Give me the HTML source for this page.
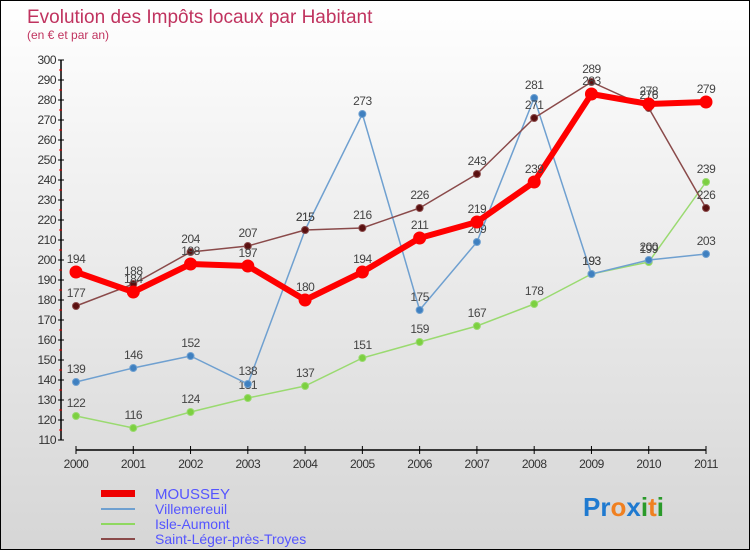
<!DOCTYPE html>
<html><head><meta charset="utf-8"><style>
body{margin:0;width:750px;height:550px;overflow:hidden;font-family:"Liberation Sans",sans-serif}
#c{position:absolute;left:0;top:0;width:748px;height:548px;border:1px solid #000;background:linear-gradient(#fff 0%,#f2f2f2 30%,#d6d6d6 100%)}
</style></head><body>
<div id="c">
<svg width="748" height="548" xmlns="http://www.w3.org/2000/svg" id="svg">
<text x="26" y="22" font-size="19" fill="#c0335f">Evolution des Impôts locaux par Habitant</text>
<text x="26" y="38" font-size="12" fill="#c0335f">(en € et par an)</text>
<g id="axes"></g><g id="series"></g>
<g>
<rect x="100" y="489" width="34" height="7" fill="#e00"/>
<text x="154" y="498" font-size="15" fill="#55f">MOUSSEY</text>
<rect x="100" y="507" width="34" height="2" fill="#6fa0d0"/>
<text x="154" y="513" font-size="14" fill="#55f">Villemereuil</text>
<rect x="100" y="522" width="34" height="2" fill="#8fd860"/>
<text x="154" y="528" font-size="14" fill="#55f">Isle-Aumont</text>
<rect x="100" y="537" width="34" height="2" fill="#8a4a4a"/>
<text x="154" y="543" font-size="14" fill="#55f">Saint-Léger-près-Troyes</text>
</g>
<text x="582" y="515" font-size="26" font-weight="bold"><tspan fill="#1f7ad0">Pr</tspan><tspan fill="#f08020">o</tspan><tspan fill="#1f7ad0">x</tspan><tspan fill="#2a9a2a">i</tspan><tspan fill="#f08020">t</tspan><tspan fill="#2a9a2a">i</tspan></text>
</svg></div>
<script>
const years=[2000,2001,2002,2003,2004,2005,2006,2007,2008,2009,2010,2011];
const yTicks=[110,120,130,140,150,160,170,180,190,200,210,220,230,240,250,260,270,280,290,300];
const moussey=[194,184,198,197,180,194,211,219,239,283,278,279];
const villemereuil=[139,146,152,138,215,273,175,209,281,193,200,203];
const isleAumont=[122,116,124,131,137,151,159,167,178,193,199,239];
const saintLeger=[177,188,204,207,215,216,226,243,271,289,276,226];
const NS="http://www.w3.org/2000/svg";
const X=i=>75+i*(630/11);
const Y=v=>59+(300-v)*2;
function mk(t,a,p){const e=document.createElementNS(NS,t);for(const k in a)e.setAttribute(k,a[k]);p.appendChild(e);return e;}
const ax=document.getElementById('axes');
const yl=mk('line',{x1:60,y1:Y(300),x2:60,y2:Y(110),stroke:'#000','stroke-width':1.5},ax);


yTicks.forEach(v=>{
 mk('line',{x1:57,y1:Y(v),x2:63,y2:Y(v),stroke:'#000'},ax);
 if(v<300) mk('line',{x1:58,y1:Y(v+5),x2:61,y2:Y(v+5),stroke:'#e00'},ax);
 const t=mk('text',{x:55,y:Y(v)+4,'font-size':12,fill:'#333','text-anchor':'end','letter-spacing':'-0.5'},ax);
 t.textContent=v;
 
 
});
const xl=mk('line',{x1:X(0),y1:449,x2:X(11),y2:449,stroke:'#000','stroke-width':1.5},ax);


years.forEach((y,i)=>{
 mk('line',{x1:X(i),y1:445,x2:X(i),y2:453,stroke:'#000'},ax);
 const t=mk('text',{x:X(i),y:467,'font-size':12,fill:'#333','text-anchor':'middle','letter-spacing':'-0.5'},ax);
 t.textContent=y;
 
 
});
const sg=document.getElementById('series');
function series(vals,name,color,w,r,dot){
 const g=mk('g',{},sg);
 
 
 const pl=mk('polyline',{points:vals.map((v,i)=>X(i)+','+Y(v)).join(' '),fill:'none',stroke:color,'stroke-width':w,'stroke-linejoin':'round'},g);
 
 
 vals.forEach((v,i)=>{
  const c=mk('circle',{cx:X(i),cy:Y(v),r:r,fill:dot,stroke:color,'stroke-width':1},g);
  
  
  const t=mk('text',{x:X(i),y:Y(v)-9,'font-size':12,fill:'#444','text-anchor':'middle','letter-spacing':'-0.5'},g);
  t.textContent=v;
  
  
 });
}
series(isleAumont,'isle-aumont','#9ada70',1.5,3.5,'#7cd040');
series(villemereuil,'villemereuil','#6fa0d0',1.5,3.5,'#3f80c0');
series(saintLeger,'saint-leger','#8a4a4a',1.5,3.5,'#5a1010');
series(moussey,'moussey','#f00',6,6,'#f00');
</script>
</body></html>
